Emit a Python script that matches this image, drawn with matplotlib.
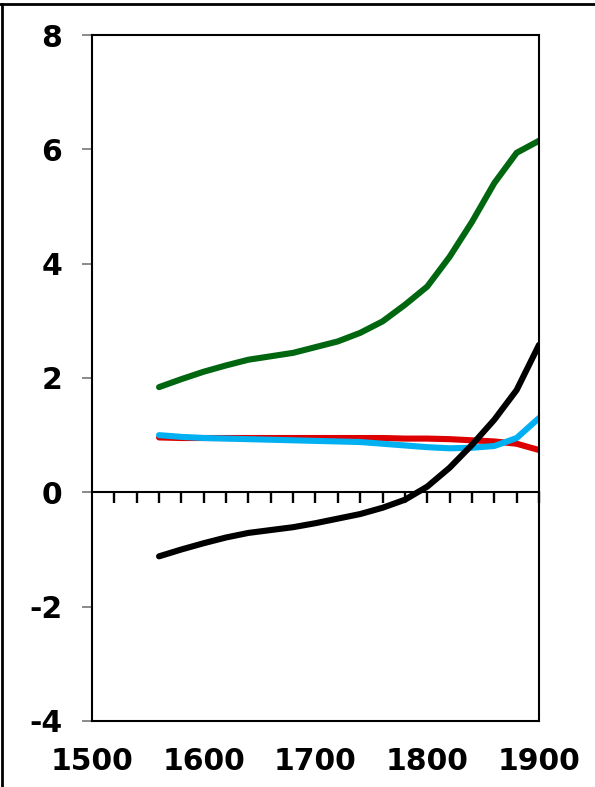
import numpy as np
import matplotlib
matplotlib.use("Agg")
import matplotlib.pyplot as plt
from matplotlib.lines import Line2D

years = [1560, 1580, 1600, 1620, 1640, 1660, 1680, 1700, 1720,
         1740, 1760, 1780, 1800, 1820, 1840, 1860, 1880, 1900]
green = [1.84, 1.98, 2.11, 2.22, 2.32, 2.38, 2.44, 2.54, 2.64,
         2.79, 2.99, 3.28, 3.60, 4.12, 4.73, 5.41, 5.94, 6.15]
black = [-1.12, -1.00, -0.89, -0.79, -0.71, -0.66, -0.61, -0.54, -0.46,
         -0.38, -0.27, -0.13, 0.10, 0.43, 0.83, 1.27, 1.79, 2.58]
red = [0.96, 0.95, 0.95, 0.95, 0.95, 0.95, 0.95, 0.95, 0.95,
       0.95, 0.95, 0.94, 0.94, 0.93, 0.91, 0.89, 0.85, 0.74]
cyan = [1.00, 0.97, 0.95, 0.94, 0.93, 0.92, 0.91, 0.90, 0.89,
        0.88, 0.85, 0.82, 0.79, 0.77, 0.78, 0.81, 0.95, 1.30]

xticks = [1500, 1600, 1700, 1800, 1900]
yticks = [-4, -2, 0, 2, 4, 6, 8]
minor_x = list(range(1520, 1901, 20))

plt.rcParams['font.family'] = ['DejaVu Sans']
plt.rcParams['axes.unicode_minus'] = False
fig = plt.figure(figsize=(5.95, 7.87), dpi=100)
ax = fig.add_axes([0.1546, 0.0839, 0.7513, 0.8716])

lw = 4.4
ax.plot(years, red, color='#dd0000', lw=lw, solid_capstyle='round')
ax.plot(years, cyan, color='#00b0f0', lw=lw, solid_capstyle='round')
ax.plot(years, green, color='#006610', lw=lw, solid_capstyle='round')
ax.plot(years, black, color='black', lw=lw, solid_capstyle='round')

ax.set_xlim(1500, 1900)
ax.set_ylim(-4, 8)
for s in ax.spines.values():
    s.set_linewidth(1.5)
ax.set_xticks(xticks)
ax.set_yticks(yticks)
ax.tick_params(axis='x', length=0, pad=19, labelsize=21.5)
ax.tick_params(axis='y', length=7.5, width=1.2, color='#777777', pad=14, labelsize=21.5)
for lab in ax.get_xticklabels() + ax.get_yticklabels():
    lab.set_fontweight('bold')

# axis line through zero with small ticks every 20 years
ax2 = ax.twiny()
ax2.set_xlim(1500, 1900)
for k in ['top', 'left', 'right']:
    ax2.spines[k].set_visible(False)
ax2.spines['bottom'].set_position(('data', 0))
ax2.spines['bottom'].set_linewidth(1.5)
ax2.xaxis.set_ticks_position('bottom')
ax2.set_xticks(minor_x)
ax2.tick_params(axis='x', direction='out', length=8, width=1.7, color='black',
                labelbottom=False, labeltop=False)

# frame lines on figure
fig.add_artist(Line2D([0, 1], [1 - 3.5 / 787, 1 - 3.5 / 787], color='black', lw=2, transform=fig.transFigure))
fig.add_artist(Line2D([1.5 / 595, 1.5 / 595], [0, 1 - 3.5 / 787], color='black', lw=2, transform=fig.transFigure))

fig.savefig("out.png", dpi=100)
